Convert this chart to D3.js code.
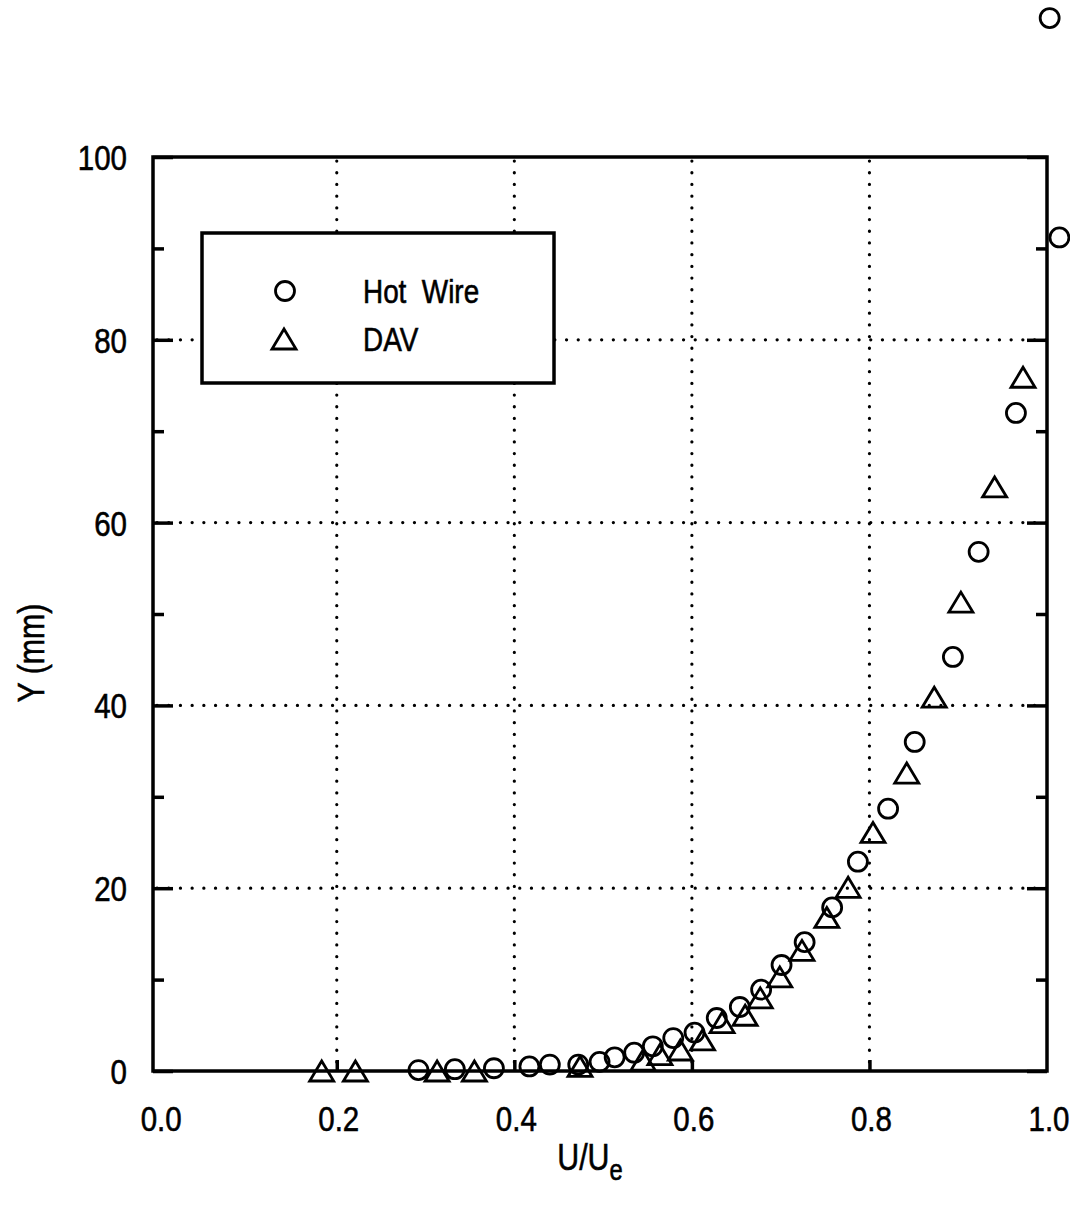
<!DOCTYPE html>
<html>
<head>
<meta charset="utf-8">
<script src="https://cdn.jsdelivr.net/npm/d3@7"></script>
<style>
  body { margin: 0; background: #fff; }
  text { font-family: "Liberation Sans", Arial, sans-serif; fill: #000; stroke: #000; stroke-width: 0.6px; }
</style>
</head>
<body>
<div id="chart"></div>
<script>
// Hot Wire profile (U/Ue, Y mm)
var hotWireU = [0.292, 0.333, 0.377, 0.417, 0.440, 0.472, 0.496, 0.513, 0.535, 0.556, 0.579, 0.603, 0.628, 0.654, 0.678, 0.701, 0.727, 0.758, 0.787, 0.821, 0.851, 0.894, 0.923, 0.965, 1.014, 1.003];
var hotWireY = [0.1, 0.2, 0.3, 0.5, 0.7, 0.7, 1.0, 1.5, 2.0, 2.7, 3.6, 4.2, 5.8, 7.0, 8.9, 11.6, 14.1, 17.9, 22.9, 28.7, 36.0, 45.3, 56.8, 72.0, 91.2, 115.2];

// DAV profile
var davU = [0.183, 0.221, 0.313, 0.355, 0.474, 0.545, 0.564, 0.587, 0.612, 0.634, 0.660, 0.677, 0.699, 0.724, 0.752, 0.776, 0.804, 0.842, 0.873, 0.903, 0.941, 0.973];
var davY = [0.0, 0.0, 0.0, 0.0, 0.5, 1.2, 1.8, 2.3, 3.4, 5.3, 6.1, 8.0, 10.3, 13.2, 16.8, 20.1, 26.1, 32.6, 40.9, 51.3, 63.9, 75.9];

var xTicks = [0.0, 0.2, 0.4, 0.6, 0.8, 1.0];
var yTicks = [0, 20, 40, 60, 80, 100];
var yMinorTicks = [10, 30, 50, 70, 90];
var xGrid = [0.2, 0.4, 0.6, 0.8];
var yGrid = [20, 40, 60, 80];
var legendLabels = ["Hot  Wire", "DAV"];

(function() {
    var width = 1070,
        height = 1205;

    // narrow look: squeeze Liberation Sans horizontally
    var squeeze = 0.82;

    var svg = d3.select("#chart")
        .append("svg")
        .attr("width", width)
        .attr("height", height);

    var x = d3.scaleLinear().domain([-0.007, 1.0]).range([153, 1047]);
    var y = d3.scaleLinear().domain([0, 100]).range([1071, 157]);

    var left = x.range()[0], right = x.range()[1],
        top = y(100), bottom = y(0);

    // helper: condensed text placed at (px, py)
    function narrowText(parent, px, py, size, anchor, str) {
        var g = parent.append("g").attr("transform", "translate(" + px + "," + py + ")");
        return g.append("text")
            .attr("transform", "scale(" + squeeze + ",1)")
            .attr("text-anchor", anchor)
            .attr("font-size", size)
            .style("white-space", "pre")
            .text(str);
    }

    // dotted grid
    var grid = svg.append("g")
        .attr("stroke", "#000")
        .attr("stroke-width", 3.2)
        .attr("stroke-linecap", "round")
        .attr("stroke-dasharray", "0.1,11.6");

    grid.selectAll(".vg")
        .data(xGrid)
        .enter().append("line")
        .attr("x1", function(d) { return x(d); })
        .attr("x2", function(d) { return x(d); })
        .attr("y1", top + 4)
        .attr("y2", bottom);

    grid.selectAll(".hg")
        .data(yGrid)
        .enter().append("line")
        .attr("x1", left + 4)
        .attr("x2", right)
        .attr("y1", function(d) { return y(d); })
        .attr("y2", function(d) { return y(d); });

    // axes - ticks point inward
    var yLeft = d3.axisLeft(y).tickValues(yTicks).tickSizeInner(-20).tickSizeOuter(0).tickFormat("");
    var yLeftMinor = d3.axisLeft(y).tickValues(yMinorTicks).tickSizeInner(-11).tickSizeOuter(0).tickFormat("");
    var yRight = d3.axisRight(y).tickValues(yTicks).tickSizeInner(-20).tickSizeOuter(0).tickFormat("");
    var yRightMinor = d3.axisRight(y).tickValues(yMinorTicks).tickSizeInner(-11).tickSizeOuter(0).tickFormat("");
    var xBottom = d3.axisBottom(x).tickValues(xGrid).tickSizeInner(-11).tickSizeOuter(0).tickFormat("");

    svg.append("g").attr("class", "axis").attr("transform", "translate(" + left + ",0)").call(yLeft);
    svg.append("g").attr("class", "axis").attr("transform", "translate(" + left + ",0)").call(yLeftMinor);
    svg.append("g").attr("class", "axis").attr("transform", "translate(" + right + ",0)").call(yRight);
    svg.append("g").attr("class", "axis").attr("transform", "translate(" + right + ",0)").call(yRightMinor);
    svg.append("g").attr("class", "axis").attr("transform", "translate(0," + bottom + ")").call(xBottom);

    svg.selectAll(".axis .domain").remove();
    svg.selectAll(".axis text").remove();
    svg.selectAll(".axis line").attr("stroke", "#000").attr("stroke-width", 3.5);

    // tick labels
    var labels = svg.append("g");
    yTicks.forEach(function(d) {
        narrowText(labels, 127, y(d) + 13, 36, "end", d3.format("d")(d));
    });
    xTicks.forEach(function(d) {
        narrowText(labels, x(d) + 2, bottom + 60, 36, "middle", d3.format(".1f")(d));
    });

    // frame
    svg.append("rect")
        .attr("x", left)
        .attr("y", top)
        .attr("width", right - left)
        .attr("height", bottom - top)
        .attr("fill", "none")
        .attr("stroke", "#000")
        .attr("stroke-width", 3.5);

    // axis titles
    var xt = narrowText(svg, 590, 1170, 37, "middle", "");
    xt.append("tspan").text("U/U");
    xt.append("tspan").attr("font-size", 29).attr("dy", 10).text("e");

    svg.append("g")
        .attr("transform", "translate(44,653) rotate(-90)")
        .append("text")
        .attr("transform", "scale(" + squeeze + ",1)")
        .attr("text-anchor", "middle")
        .attr("font-size", 37)
        .text("Y (mm)");

    var tri = "M0,-10L12,10L-12,10Z";

    // data markers
    svg.selectAll(".hw")
        .data(d3.zip(hotWireU, hotWireY))
        .enter().append("circle")
        .attr("class", "hw")
        .attr("cx", function(d) { return x(d[0]); })
        .attr("cy", function(d) { return y(d[1]); })
        .attr("r", 9.5)
        .attr("fill", "none")
        .attr("stroke", "#000")
        .attr("stroke-width", 2.8);

    svg.selectAll(".dav")
        .data(d3.zip(davU, davY))
        .enter().append("path")
        .attr("class", "dav")
        .attr("d", tri)
        .attr("transform", function(d) { return "translate(" + x(d[0]) + "," + y(d[1]) + ")"; })
        .attr("fill", "none")
        .attr("stroke", "#000")
        .attr("stroke-width", 2.8);

    // legend
    var legend = svg.append("g").attr("transform", "translate(202,233)");
    legend.append("rect")
        .attr("width", 352)
        .attr("height", 150)
        .attr("fill", "#fff")
        .attr("stroke", "#000")
        .attr("stroke-width", 3.5);

    legend.append("circle")
        .attr("cx", 83).attr("cy", 58).attr("r", 9.5)
        .attr("fill", "none").attr("stroke", "#000").attr("stroke-width", 2.8);
    legend.append("path")
        .attr("d", tri)
        .attr("transform", "translate(82,106)")
        .attr("fill", "none").attr("stroke", "#000").attr("stroke-width", 2.8);

    legendLabels.forEach(function(d, i) {
        narrowText(legend, 161, 70 + i * 48, 34, "start", d);
    });
})();
</script>
</body>
</html>
